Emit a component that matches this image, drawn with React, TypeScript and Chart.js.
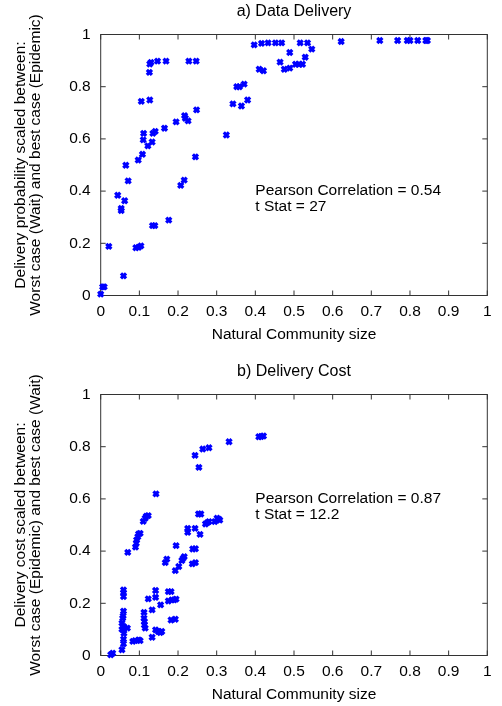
import { useEffect, useRef } from "react";
import Chart from "chart.js/auto";

// ---- axis ticks ----
const xTickValues = [0, 0.1, 0.2, 0.3, 0.4, 0.5, 0.6, 0.7, 0.8, 0.9, 1];
const xTickLabels = ["0", "0.1", "0.2", "0.3", "0.4", "0.5", "0.6", "0.7", "0.8", "0.9", "1"];
const yTickValues = [0, 0.2, 0.4, 0.6, 0.8, 1];
const yTickLabels = ["0", "0.2", "0.4", "0.6", "0.8", "1"];

// ---- a) Data Delivery ----
const deliveryX = [
  0.0, 0.005, 0.009, 0.021, 0.059, 0.044, 0.053, 0.053, 0.062, 0.065,
  0.071, 0.091, 0.098, 0.104, 0.097, 0.108, 0.11, 0.111, 0.105, 0.122,
  0.133, 0.135, 0.141, 0.126, 0.127, 0.13, 0.147, 0.169, 0.127, 0.134,
  0.14, 0.165, 0.176, 0.195, 0.207, 0.216, 0.217, 0.219, 0.226, 0.228,
  0.247, 0.245, 0.248, 0.325, 0.342, 0.352, 0.359, 0.371, 0.364, 0.38,
  0.397, 0.41, 0.421, 0.416, 0.433, 0.452, 0.468, 0.464, 0.475, 0.489,
  0.489, 0.504, 0.513, 0.522, 0.529, 0.546, 0.516, 0.535, 0.622, 0.722,
  0.768, 0.793, 0.8, 0.82, 0.841, 0.845,
];
const deliveryY = [
  0.005, 0.033, 0.033, 0.188, 0.075, 0.384, 0.334, 0.325, 0.363, 0.499,
  0.439, 0.183, 0.185, 0.19, 0.519, 0.541, 0.596, 0.621, 0.744, 0.573,
  0.588, 0.621, 0.629, 0.855, 0.887, 0.893, 0.898, 0.898, 0.749, 0.268,
  0.268, 0.641, 0.289, 0.665, 0.422, 0.442, 0.689, 0.679, 0.669, 0.898,
  0.898, 0.531, 0.711, 0.615, 0.734, 0.8, 0.8, 0.81, 0.726, 0.749,
  0.96, 0.867, 0.861, 0.966, 0.968, 0.968, 0.968, 0.894, 0.867, 0.871,
  0.931, 0.886, 0.886, 0.886, 0.913, 0.944, 0.968, 0.968, 0.973, 0.977,
  0.977, 0.977, 0.977, 0.977, 0.977, 0.977,
];

// ---- b) Delivery Cost ----
const costX = [
  0.026, 0.031, 0.055, 0.059, 0.059, 0.06, 0.055, 0.055, 0.057, 0.058,
  0.059, 0.059, 0.059, 0.059, 0.059, 0.061, 0.069, 0.07, 0.09, 0.092,
  0.093, 0.096, 0.098, 0.102, 0.11, 0.115, 0.118, 0.123, 0.083, 0.089,
  0.098, 0.102, 0.112, 0.112, 0.113, 0.113, 0.115, 0.123, 0.133, 0.133,
  0.142, 0.142, 0.143, 0.142, 0.149, 0.154, 0.158, 0.155, 0.167, 0.171,
  0.175, 0.182, 0.175, 0.184, 0.19, 0.195, 0.182, 0.193, 0.193, 0.202,
  0.195, 0.21, 0.213, 0.216, 0.225, 0.225, 0.237, 0.245, 0.238, 0.245,
  0.244, 0.244, 0.254, 0.253, 0.259, 0.257, 0.264, 0.28, 0.271, 0.276,
  0.28, 0.295, 0.301, 0.305, 0.308, 0.332, 0.409, 0.415, 0.421,
];
const costY = [
  0.003, 0.009, 0.022, 0.045, 0.063, 0.085, 0.1, 0.124, 0.143, 0.152,
  0.17, 0.226, 0.241, 0.251, 0.111, 0.108, 0.105, 0.395, 0.415, 0.43,
  0.443, 0.455, 0.466, 0.468, 0.514, 0.526, 0.534, 0.536, 0.054, 0.057,
  0.06, 0.057, 0.165, 0.143, 0.13, 0.117, 0.105, 0.217, 0.07, 0.175,
  0.249, 0.223, 0.619, 0.098, 0.092, 0.088, 0.092, 0.194, 0.356, 0.369,
  0.245, 0.245, 0.209, 0.213, 0.213, 0.216, 0.136, 0.139, 0.325, 0.341,
  0.421, 0.364, 0.372, 0.379, 0.487, 0.472, 0.351, 0.356, 0.408, 0.409,
  0.487, 0.767, 0.721, 0.542, 0.542, 0.464, 0.791, 0.796, 0.504, 0.509,
  0.513, 0.513, 0.526, 0.522, 0.519, 0.819, 0.838, 0.839, 0.841,
];

const FONT = '"Liberation Sans", Arial, Helvetica, sans-serif';
const FS = 15.5;

const framePlugin = {
  id: "frame",
  beforeDatasetsDraw(chart: any) {
    const { ctx, chartArea: a, scales } = chart;
    const x = scales.x;
    const y = scales.y;
    const tl = 5;
    ctx.save();
    ctx.strokeStyle = "#333";
    ctx.lineWidth = 1;
    ctx.strokeRect(a.left, a.top, a.right - a.left, a.bottom - a.top);
    ctx.beginPath();
    x.ticks.forEach((t: any) => {
      const px = x.getPixelForValue(t.value);
      ctx.moveTo(px, a.bottom);
      ctx.lineTo(px, a.bottom - tl);
      ctx.moveTo(px, a.top);
      ctx.lineTo(px, a.top + tl);
    });
    y.ticks.forEach((t: any) => {
      const py = y.getPixelForValue(t.value);
      ctx.moveTo(a.left, py);
      ctx.lineTo(a.left + tl, py);
      ctx.moveTo(a.right, py);
      ctx.lineTo(a.right - tl, py);
    });
    ctx.stroke();
    ctx.restore();
  },
  afterDatasetsDraw(chart: any, _args: any, opts: any) {
    if (!opts || !opts.lines) return;
    const { ctx, scales } = chart;
    const px = scales.x.getPixelForValue(opts.x);
    const py = scales.y.getPixelForValue(opts.y);
    ctx.save();
    ctx.font = `${FS}px ${FONT}`;
    ctx.fillStyle = "#000";
    ctx.textAlign = "left";
    ctx.textBaseline = "middle";
    opts.lines.forEach((t: string, i: number) => ctx.fillText(t, px, py + i * 16));
    ctx.restore();
  },
};

type PanelProps = {
  title: string;
  yTitle: string[];
  xs: number[];
  ys: number[];
  notes: string[];
  noteX: number;
  noteY: number;
  height: number;
  top: number;
};

const PLOT_LEFT = 100.7;
const PLOT_RIGHT = 487.3;
const PLOT_TOP = 34.5;
const PLOT_BOTTOM = 295.5;

function Panel(p: PanelProps) {
  const ref = useRef<HTMLCanvasElement | null>(null);
  useEffect(() => {
    if (!ref.current) return;
    const tickLH = FS * 1.2;
    const titleLH = 16 * 1.2;
    const chart = new Chart(ref.current, {
      type: "scatter",
      data: {
        datasets: [
          {
            data: p.xs.map((v, i) => ({ x: v, y: p.ys[i] })),
            pointStyle: "crossRot",
            pointRadius: 3.6,
            pointBorderWidth: 3.2,
            borderColor: "#0000ff",
            backgroundColor: "#0000ff",
            clip: false as any,
          },
        ],
      },
      plugins: [framePlugin as any],
      options: {
        animation: false,
        responsive: false,
        layout: { padding: { left: 0, right: 502 - PLOT_RIGHT, top: 0, bottom: 0 } },
        plugins: {
          legend: { display: false },
          tooltip: { enabled: false },
          title: {
            display: true,
            text: p.title,
            fullSize: false,
            color: "#000",
            font: { family: FONT, size: 16, weight: "normal", lineHeight: 1.2 },
            padding: { top: 11.5 - titleLH / 2, bottom: PLOT_TOP - 11.5 - titleLH / 2 },
          },
          frame: { lines: p.notes, x: p.noteX, y: p.noteY },
        } as any,
        scales: {
          x: {
            type: "linear",
            min: 0,
            max: 1,
            afterBuildTicks: (s: any) => {
              s.ticks = xTickValues.map((v) => ({ value: v }));
            },
            afterFit: (s: any) => {
              s.height = p.height - PLOT_BOTTOM;
            },
            grid: { display: false, drawTicks: false },
            border: { display: false },
            ticks: {
              autoSkip: false,
              maxRotation: 0,
              padding: 311.5 - PLOT_BOTTOM - tickLH / 2,
              color: "#000",
              font: { family: FONT, size: FS, lineHeight: 1.2 },
              callback: (v: any) => xTickLabels[xTickValues.indexOf(Number(v))] ?? "",
            },
            title: {
              display: true,
              text: "Natural Community size",
              color: "#000",
              font: { family: FONT, size: FS, lineHeight: 1.2 },
              padding: { top: 0, bottom: p.height - 335 - tickLH / 2 },
            },
          },
          y: {
            type: "linear",
            min: 0,
            max: 1,
            afterBuildTicks: (s: any) => {
              s.ticks = yTickValues.map((v) => ({ value: v }));
            },
            afterFit: (s: any) => {
              s.width = PLOT_LEFT;
            },
            grid: { display: false, drawTicks: false },
            border: { display: false },
            ticks: {
              padding: 10,
              color: "#000",
              font: { family: FONT, size: FS, lineHeight: 1.2 },
              callback: (v: any) => yTickLabels[yTickValues.indexOf(Number(v))] ?? "",
            },
            title: {
              display: true,
              text: p.yTitle,
              color: "#000",
              font: { family: FONT, size: FS, lineHeight: 1.0 },
              padding: { top: 20.5 - FS / 2, bottom: 0 },
            },
          },
        },
      },
    });
    return () => chart.destroy();
  }, []);
  return (
    <canvas
      ref={ref}
      width={502}
      height={p.height}
      style={{ position: "absolute", left: 0, top: p.top, width: 502, height: p.height, display: "block" }}
    />
  );
}

export default function App() {
  return (
    <div style={{ position: "absolute", left: 0, top: 0, width: 502, height: 706, background: "#fff" }}>
      <Panel
        title="a) Data Delivery"
        yTitle={["Delivery probability scaled between:", "Worst case (Wait) and best case (Epidemic)"]}
        xs={deliveryX}
        ys={deliveryY}
        notes={["Pearson Correlation = 0.54", "t Stat = 27"]}
        noteX={0.4}
        noteY={0.4}
        height={360}
        top={0}
      />
      <Panel
        title="b) Delivery Cost"
        yTitle={["Delivery cost scaled between:", "Worst case (Epidemic) and best case (Wait)"]}
        xs={costX}
        ys={costY}
        notes={["Pearson Correlation = 0.87", "t Stat = 12.2"]}
        noteX={0.4}
        noteY={0.6}
        height={346}
        top={360}
      />
    </div>
  );
}
